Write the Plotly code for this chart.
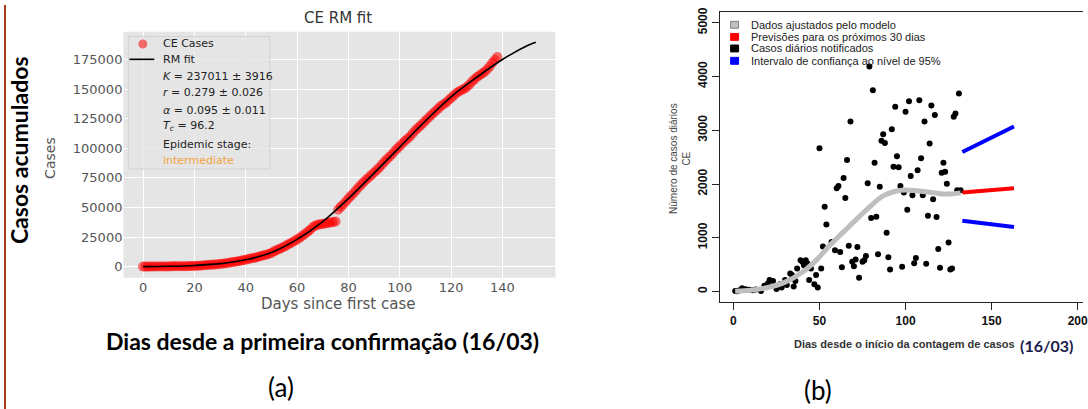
import plotly.graph_objects as go

W, H = 1088, 409


def px(x):
    return x / W


def py(y):
    return 1 - y / H


# ---------------- Panel (a): cumulative cases, Richards model fit ----------------
cum_days = list(range(0, 139))
cum_cases = [
    3, 9, 20, 24, 34, 68, 84, 125, 163, 182,
    200, 235, 282, 314, 348, 372, 382, 400, 445, 500,
    560, 700, 820, 950, 1100, 1300, 1500, 1650, 1850, 2050,
    2250, 2500, 2800, 3100, 3450, 3800, 4200, 4600, 5000, 5400,
    5900, 6400, 6900, 7300, 7800, 8400, 9000, 9500, 10000, 10600,
    11600, 12900, 13900, 14800, 15800, 16900, 18000, 19300, 20400, 21700,
    23000, 24400, 25900, 27600, 29300, 31000, 33000, 34500, 35300, 35700,
    36100, 36500, 36900, 37200, 37600, 38200, 48000, 50500, 52500, 55000,
    57500, 59800, 62000, 64500, 67000, 69300, 71500, 73600, 75500, 77500,
    79500, 81500, 83500, 86000, 88500, 90800, 92800, 95000, 97500, 99700,
    101800, 104000, 106200, 108000, 110000, 112500, 115000, 117000, 119000, 121000,
    123200, 125300, 127500, 129500, 131500, 133500, 135600, 137000, 138500, 140500,
    142500, 144500, 146500, 148000, 149000, 150000, 151500, 153500, 156000, 158000,
    160000, 161500, 163000, 164500, 166500, 169000, 172000, 174500, 177000,
]
fit_days = [0, 10, 20, 30, 40, 50, 60, 70, 80, 90, 100, 110, 120, 130, 140, 150, 153]
fit_cases = [0, 300, 1000, 2500, 5800, 12000, 23000, 38000, 57500, 79000,
             101000, 123000, 143500, 160000, 175000, 187000, 189500]
a_xticks = [0, 20, 40, 60, 80, 100, 120, 140]
a_yticks = [0, 25000, 50000, 75000, 100000, 125000, 150000, 175000]

# ---------------- Panel (b): daily cases and forecasts ----------------
daily_days = [1, 2, 3, 5, 7, 9, 11, 13, 16, 18, 20, 21, 23, 25, 27, 28, 30, 31, 33, 34,
              35, 36, 37, 39, 40, 41, 42, 43, 44, 45, 47, 48, 49, 50, 51, 52, 53, 54, 57, 59,
              60, 61, 62, 63, 64, 65, 66, 67, 68, 69, 70, 71, 72, 73, 75, 76, 77, 78, 79, 80,
              81, 82, 83, 84, 85, 86, 87, 88, 89, 90, 91, 92, 93, 94, 95, 96, 97, 98, 99, 100,
              101, 102, 103, 104, 105, 106, 107, 108, 109, 110, 111, 112, 113, 114, 115, 116, 117, 118, 119, 120,
              121, 122, 123, 124, 125, 126, 127, 128, 129, 130, 131, 132]
daily_cases = [12, 8, 20, 60, 45, 35, 25, 40, 12, 110, 150, 215, 196, 49, 135, 74, 215, 123, 337, 307,
               92, 196, 430, 583, 552, 490, 583, 521, 215, 430, 135, 307, 74, 2663, 430, 840, 1577, 1245, 920, 767,
               1920, 1963, 736, 454, 2110, 1742, 2448, 853, 3160, 552, 472, 595, 828, 258, 552, 583, 663, 2012, 4184, 1368,
               3742, 2393, 1393, 693, 1950, 2804, 2926, 2761, 1092, 638, 411, 3018, 2319, 3436, 2515, 2313, 1963, 460, 1840, 3344,
               1521, 3540, 2147, 1791, 528, 626, 2258, 3558, 2478, 1791, 3160, 515, 1411, 2755, 3460, 1718, 3282, 1387, 791, 442,
               2209, 2393, 2227, 2006, 914, 411, 430, 3251, 3313, 1883, 3681, 1883]
model_days = [1, 10, 20, 30, 40, 48, 56, 64, 72, 80, 87, 95, 100, 108, 116, 124, 132]
model_cases = [5, 25, 75, 175, 360, 580, 860, 1110, 1360, 1600, 1780, 1870, 1890, 1872, 1840, 1812, 1835]
fc_days = [133, 148, 163]
fc_mean = [1840, 1880, 1920]
fc_upper = [2595, 2840, 3070]
fc_lower = [1315, 1258, 1200]
b_xticks = [0, 50, 100, 150, 200]
b_yticks = [0, 1000, 2000, 3000, 4000, 5000]

legend_a = ["CE Cases", "RM fit", "<i>K</i> = 237011 ± 3916", "<i>r</i> = 0.279 ± 0.026",
            "<i>α</i> = 0.095 ± 0.011", "<i>T</i><sub><i>c</i></sub> = 96.2", "Epidemic stage:"]
stage_label = "intermediate"
legend_b = ["Dados ajustados pelo modelo", "Previsões para os próximos 30 dias",
            "Casos diários notificados", "Intervalo de confiança ao nível de 95%"]
legend_b_colors = ["#bfbfbf", "#ff0000", "#000000", "#0000ff"]

fig = go.Figure()

fig.add_trace(go.Scatter(x=cum_days, y=cum_cases, mode="markers", name="CE Cases",
                         marker=dict(color="red", size=10, opacity=0.55, line=dict(width=0)),
                         xaxis="x", yaxis="y", showlegend=False, hoverinfo="skip"))
fig.add_trace(go.Scatter(x=fit_days, y=fit_cases, mode="lines", name="RM fit",
                         line=dict(color="black", width=1.6, shape="spline"),
                         xaxis="x", yaxis="y", showlegend=False, hoverinfo="skip"))

fig.add_trace(go.Scatter(x=daily_days, y=daily_cases, mode="markers",
                         marker=dict(color="black", size=6),
                         xaxis="x2", yaxis="y2", showlegend=False, hoverinfo="skip"))
fig.add_trace(go.Scatter(x=model_days, y=model_cases, mode="lines",
                         line=dict(color="#bebebe", width=5, shape="spline"),
                         xaxis="x2", yaxis="y2", showlegend=False, hoverinfo="skip"))
fig.add_trace(go.Scatter(x=fc_days, y=fc_mean, mode="lines", line=dict(color="#ff0000", width=4),
                         xaxis="x2", yaxis="y2", showlegend=False, hoverinfo="skip"))
fig.add_trace(go.Scatter(x=fc_days, y=fc_upper, mode="lines", line=dict(color="#0000ff", width=4),
                         xaxis="x2", yaxis="y2", showlegend=False, hoverinfo="skip"))
fig.add_trace(go.Scatter(x=fc_days, y=fc_lower, mode="lines", line=dict(color="#0000ff", width=4),
                         xaxis="x2", yaxis="y2", showlegend=False, hoverinfo="skip"))

tick_a = dict(family="DejaVu Sans", size=13, color="#555555")
tick_b = dict(family="Liberation Sans", size=12, color="#111111", weight="bold")
fig.update_layout(
    width=W, height=H, autosize=False,
    margin=dict(l=0, r=0, t=0, b=0),
    paper_bgcolor="white", plot_bgcolor="rgba(0,0,0,0)",
    xaxis=dict(domain=[px(124), px(558)], range=[-7.65, 160.65], anchor="y",
               tickvals=a_xticks, tickformat="d", showgrid=True, gridcolor="white", gridwidth=1.2,
               zeroline=False, showline=False, ticks="", tickfont=tick_a),
    yaxis=dict(domain=[py(276), py(27)], range=[-9300, 198500], anchor="x",
               tickvals=a_yticks, tickformat="d", showgrid=True, gridcolor="white", gridwidth=1.2,
               zeroline=False, showline=False, ticks="", tickfont=tick_a),
    xaxis2=dict(domain=[px(723), 1.0], range=[-8, 203.1], anchor="y2",
                tickvals=b_xticks, tickformat="d", showgrid=False, zeroline=False,
                showline=True, linecolor="#222222", linewidth=1, mirror=True,
                ticks="outside", ticklen=7, tickcolor="#222222",
                ticklabeloverflow="allow", tickfont=tick_b),
    yaxis2=dict(domain=[py(301), py(7)], range=[-200, 5200], anchor="x2",
                tickvals=b_yticks, tickformat="d", showgrid=False, zeroline=False,
                showline=True, linecolor="#222222", linewidth=1,
                ticks="outside", ticklen=7, tickcolor="#222222", tickangle=-90,
                tickfont=tick_b),
)

shapes = []
# gray ggplot-like background for panel (a)
shapes.append(dict(type="rect", xref="x domain", yref="y domain", x0=0, x1=1, y0=0, y1=1,
                   fillcolor="#e5e5e5", line=dict(width=0), layer="below"))
# legend frame of panel (a)
shapes.append(dict(type="rect", xref="paper", yref="paper", x0=px(129), x1=px(271), y0=py(166), y1=py(32),
                   fillcolor="rgba(229,229,229,0.8)", line=dict(color="#d2d2d2", width=1), layer="above"))
shapes.append(dict(type="circle", xref="paper", yref="paper", x0=px(139), x1=px(148), y0=py(44), y1=py(35),
                   fillcolor="rgba(255,0,0,0.55)", line=dict(width=0), layer="above"))
shapes.append(dict(type="line", xref="paper", yref="paper", x0=px(130), x1=px(155), y0=py(55), y1=py(55),
                   line=dict(color="black", width=1.6), layer="above"))
# legend squares of panel (b)
legend_b_rows = [20, 32.3, 44, 56.5]
for c, yy in zip(legend_b_colors, legend_b_rows):
    shapes.append(dict(type="rect", xref="paper", yref="paper", x0=px(734), x1=px(742),
                       y0=py(yy + 3.5), y1=py(yy - 3.5), fillcolor=c,
                       line=dict(color="#808080" if c == "#bfbfbf" else c, width=1), layer="above"))
# left border line of the composite figure
shapes.append(dict(type="line", xref="paper", yref="paper", x0=px(5), x1=px(5), y0=0, y1=1,
                   line=dict(color="#a5391c", width=2), layer="above"))
fig.update_layout(shapes=shapes)

ann = []


def add_text(text, x, y, size, color="#000000", family="DejaVu Sans", xanchor="center",
             angle=0, weight="normal"):
    ann.append(dict(text=text, x=px(x), y=py(y), xref="paper", yref="paper", showarrow=False,
                    xanchor=xanchor, yanchor="middle", textangle=angle,
                    font=dict(family=family, size=size, color=color, weight=weight)))


# panel (a) texts
add_text("CE RM fit", 340, 13, 15, "#333333")
add_text("Cases", 50, 155, 14, "#555555", angle=-90)
add_text("Days since first case", 340, 303, 15, "#555555")
legend_a_rows = [39, 55, 72, 89, 107, 123, 141]
for t, yy in zip(legend_a, legend_a_rows):
    add_text(t, 162, yy, 11, "#222222", xanchor="left")
add_text(stage_label, 162, 157, 11, "#f2a23c", xanchor="left")
add_text("Casos acumulados", 19, 147, 23, "#000000", family="Lato", angle=-90, weight="bold")
add_text("Dias desde a primeira confirmação (16/03)", 324, 340, 23, "#000000", family="Lato", weight="bold")
add_text("(a)", 282, 387, 26, "#000000", family="Lato")

# panel (b) texts
for t, yy in zip(legend_b, legend_b_rows):
    add_text(t, 752, yy, 11, "#222222", family="Liberation Sans", xanchor="left")
add_text("Número de casos diários<br>CE", 683, 155, 10, "#444444", family="Liberation Sans", angle=-90)
add_text("Dias desde o início da contagem de casos", 909, 343, 11, "#333333",
         family="Liberation Sans", weight="bold")
add_text("(16/03)", 1051, 345, 16, "#1b1b4b", family="Lato", weight="bold")
add_text("(b)", 822, 390, 26, "#000000", family="Lato")

fig.update_layout(annotations=ann)

fig.write_html("out.html")
